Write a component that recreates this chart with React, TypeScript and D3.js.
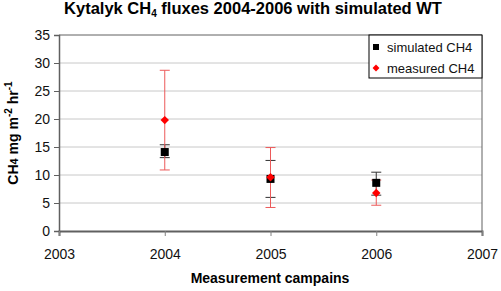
import React, { useEffect, useRef } from 'react'
import * as d3 from 'd3'

const years = [2004, 2005, 2006]
const simulated = [14.1, 9.3, 8.6]
const simLow = [13.1, 6.0, 6.4]
const simHigh = [15.4, 12.6, 10.5]
const measured = [19.8, 9.6, 6.8]
const measLow = [10.9, 4.2, 4.6]
const measHigh = [28.7, 14.9, 9.1]
const yTicks = [0, 5, 10, 15, 20, 25, 30, 35]
const xTicks = [2003, 2004, 2005, 2006, 2007]

const App = () => {
  const ref = useRef<SVGSVGElement>(null)

  useEffect(() => {
    const svg = d3.select(ref.current)
    svg.selectAll('*').remove()
    const font = 'Arial, "Liberation Sans", sans-serif'
    const margin = { left: 59, right: 19, top: 35, bottom: 60 }
    const W = 501, H = 291
    const x = d3.scaleLinear().domain([2003, 2007]).range([margin.left, W - margin.right])
    const y = d3.scaleLinear().domain([0, 35]).range([H - margin.bottom, margin.top])

    // gridlines
    svg.append('g')
      .selectAll('line')
      .data(yTicks.slice(1, -1))
      .enter()
      .append('line')
      .attr('x1', x(2003)).attr('x2', x(2007))
      .attr('y1', d => y(d)).attr('y2', d => y(d))
      .attr('stroke', '#c8c8c8').attr('stroke-width', 1)

    // frame top/right
    svg.append('path')
      .attr('d', `M${x(2003)},${y(35)}H${x(2007)}V${y(0)}`)
      .attr('fill', 'none').attr('stroke', '#606060').attr('stroke-width', 1)

    // y axis
    const yAxis = svg.append('g')
      .attr('transform', `translate(${x(2003)},0)`)
      .call(d3.axisLeft(y).tickValues(yTicks).tickSize(5).tickPadding(4))
    yAxis.select('.domain').attr('stroke', '#606060').attr('stroke-width', 1.5)
    yAxis.selectAll('.tick line').attr('stroke', '#606060')
    yAxis.selectAll('text').attr('font-family', font).attr('font-size', 14).attr('fill', '#111')

    // x axis
    const xAxis = svg.append('g')
      .attr('transform', `translate(0,${y(0)})`)
      .call(d3.axisBottom(x).tickValues(xTicks).tickFormat(d3.format('d')).tickSize(5).tickPadding(13))
    xAxis.select('.domain').attr('stroke', '#606060').attr('stroke-width', 2)
    xAxis.selectAll('.tick line').attr('stroke', '#808080')
    xAxis.selectAll('text').attr('font-family', font).attr('font-size', 14).attr('fill', '#111')

    const errBar = (low: number[], high: number[], color: string) => {
      const g = svg.append('g').attr('stroke', color).attr('stroke-width', 1)
      years.forEach((yr, i) => {
        const cx = x(yr)
        g.append('line').attr('x1', cx).attr('x2', cx).attr('y1', y(low[i])).attr('y2', y(high[i]))
        g.append('line').attr('x1', cx - 5).attr('x2', cx + 5).attr('y1', y(low[i])).attr('y2', y(low[i]))
        g.append('line').attr('x1', cx - 5).attr('x2', cx + 5).attr('y1', y(high[i])).attr('y2', y(high[i]))
      })
    }
    errBar(simLow, simHigh, '#333')
    errBar(measLow, measHigh, '#ec5a5a')

    svg.append('g')
      .selectAll('rect')
      .data(simulated)
      .enter()
      .append('rect')
      .attr('x', (d, i) => x(years[i]) - 4)
      .attr('y', d => y(d) - 4)
      .attr('width', 8).attr('height', 8)
      .attr('fill', '#000')

    const diamond = d3.symbol().type(d3.symbolSquare).size(36)
    svg.append('g')
      .selectAll('path')
      .data(measured)
      .enter()
      .append('path')
      .attr('d', diamond)
      .attr('transform', (d, i) => `translate(${x(years[i])},${y(d)}) rotate(45)`)
      .attr('fill', '#f00')

    // legend
    const lg = svg.append('g')
    lg.append('rect')
      .attr('x', 369).attr('y', 35).attr('width', x(2007) - 369).attr('height', 43)
      .attr('fill', '#fff').attr('stroke', '#000').attr('stroke-width', 1)
    lg.append('rect').attr('x', 373).attr('y', 44).attr('width', 6).attr('height', 6).attr('fill', '#000')
    lg.append('path').attr('d', d3.symbol().type(d3.symbolSquare).size(24)).attr('transform', 'translate(376,68) rotate(45)').attr('fill', '#f00')
    lg.append('text').attr('x', 387).attr('y', 52).text('simulated CH4')
      .attr('font-family', font).attr('font-size', 13).attr('fill', '#111')
    lg.append('text').attr('x', 387).attr('y', 73).text('measured CH4')
      .attr('font-family', font).attr('font-size', 13).attr('fill', '#111')

    // title
    const title = svg.append('text')
      .attr('x', 253).attr('y', 14)
      .attr('text-anchor', 'middle')
      .attr('font-family', font).attr('font-size', 16.5).attr('font-weight', 'bold')
    title.append('tspan').text('Kytalyk CH')
    title.append('tspan').text('4').attr('font-size', 10).attr('dy', 3)
    title.append('tspan').text(' fluxes 2004-2006 with simulated WT').attr('dy', -3)

    // x label
    svg.append('text')
      .attr('x', 270).attr('y', 283)
      .attr('text-anchor', 'middle')
      .attr('font-family', font).attr('font-size', 14).attr('font-weight', 'bold')
      .text('Measurement campains')

    // y label
    const yl = svg.append('text')
      .attr('transform', `translate(18,133) rotate(-90)`)
      .attr('text-anchor', 'middle')
      .attr('font-family', font).attr('font-size', 14).attr('font-weight', 'bold')
    yl.append('tspan').text('CH')
    yl.append('tspan').text('4').attr('font-size', 11).attr('dy', 0)
    yl.append('tspan').text(' mg m').attr('dy', 0)
    yl.append('tspan').text('-2').attr('font-size', 10).attr('dy', -6)
    yl.append('tspan').text(' hr').attr('dy', 6)
    yl.append('tspan').text('-1').attr('font-size', 10).attr('dy', -6)
  }, [])

  return <svg width={501} height={291} ref={ref} style={{ position: 'absolute', left: 0, top: 0, background: '#fff' }} />
}

export default App
